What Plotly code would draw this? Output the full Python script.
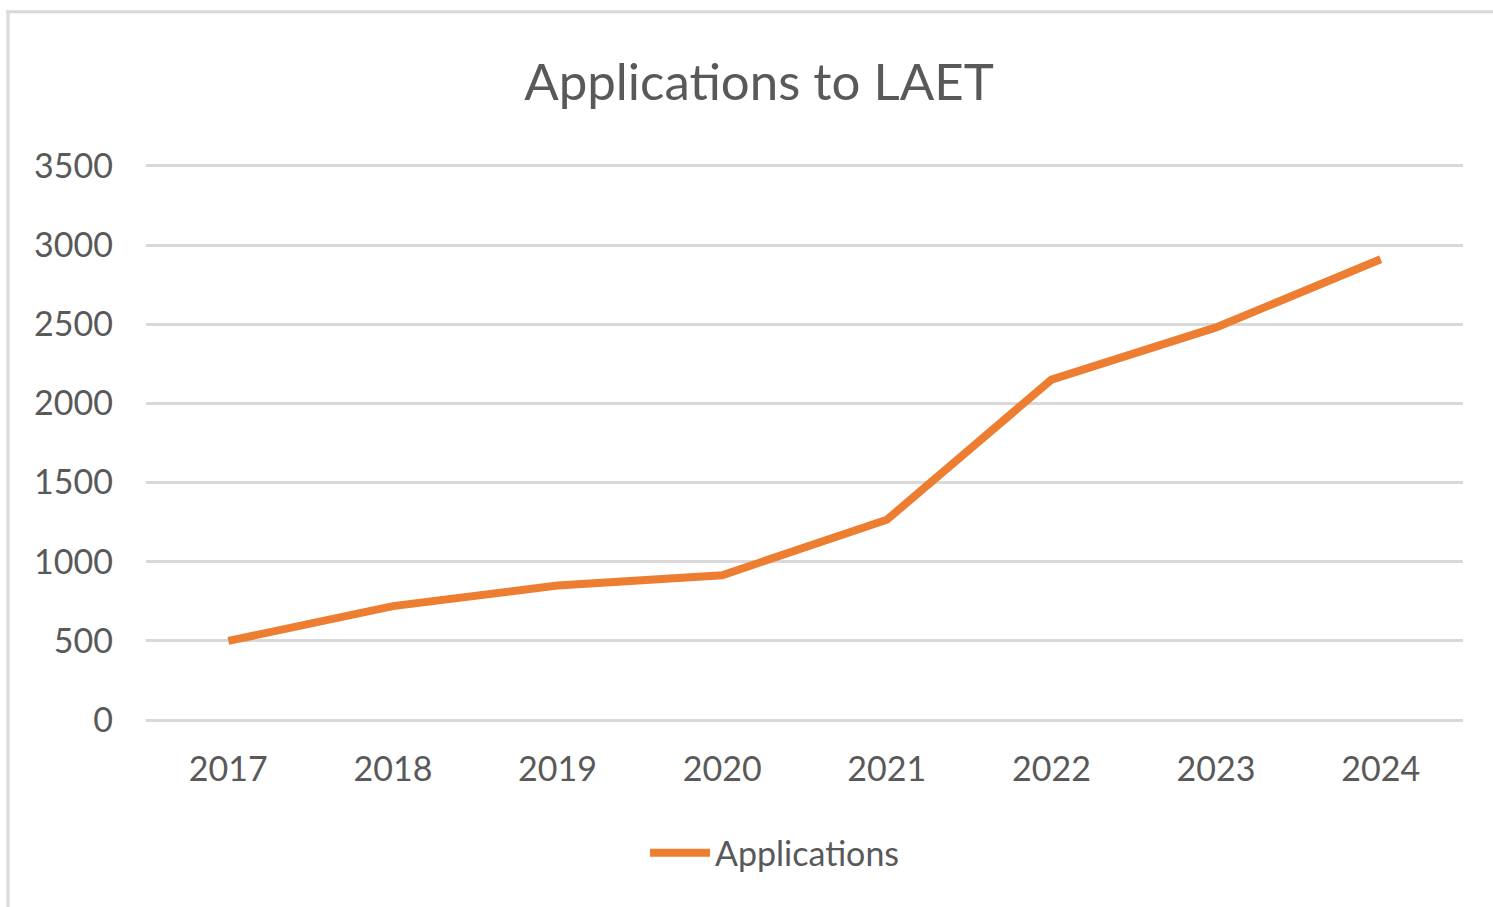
import plotly.graph_objects as go

years = ["2017", "2018", "2019", "2020", "2021", "2022", "2023", "2024"]
applications = [500, 720, 850, 915, 1265, 2150, 2480, 2910]
y_ticks = [0, 500, 1000, 1500, 2000, 2500, 3000, 3500]

W, H = 1493, 907
# target pixel positions of the value axis ends
Y0_PX, Y3500_PX = 720, 166
PAD = 12  # data units of padding so edge gridlines are drawn
k = (Y0_PX - Y3500_PX) / 3500.0
L, R = 146, 30
T = Y3500_PX - PAD * k
B = H - (Y0_PX + PAD * k)
pw, ph = W - L - R, H - T - B

def px(x):
    return (x - L) / pw

def py(y):
    return (H - B - y) / ph

FONT = "Lato"
TXT = "#595959"
GRID = "#D9D9D9"

fig = go.Figure()
fig.add_trace(go.Scatter(
    x=years, y=applications, mode="lines", name="Applications",
    line=dict(color="#ED7D31", width=8),
))

fig.update_layout(
    width=W, height=H,
    margin=dict(l=L, r=R, t=T, b=B, pad=0),
    paper_bgcolor="white", plot_bgcolor="white",
    font=dict(family=FONT, color=TXT),
    title=dict(text="Applications to LAET", x=759 / W, xanchor="center",
               y=1 - 82 / H, yanchor="middle",
               font=dict(family=FONT, size=51, color=TXT)),
    showlegend=True,
    legend=dict(x=px(775), y=py(853), xanchor="center", yanchor="middle",
                font=dict(family=FONT, size=34, color=TXT),
                bgcolor="rgba(0,0,0,0)", itemwidth=60),
    xaxis=dict(type="category", range=[-0.5, 7.5], showgrid=False,
               showline=False, zeroline=False, ticks="",
               tickfont=dict(family=FONT, size=34, color=TXT), ticklabelstandoff=24),
    yaxis=dict(range=[-PAD, 3500 + PAD], tickvals=y_ticks, showgrid=True,
               gridcolor=GRID, gridwidth=2.5, zeroline=False, showline=False,
               ticks="", tickfont=dict(family=FONT, size=34, color=TXT),
               ticklabelstandoff=32),
    shapes=[
        dict(type="line", xref="paper", yref="paper", x0=px(6), x1=px(W + 5),
             y0=py(12), y1=py(12), line=dict(color=GRID, width=3)),
        dict(type="line", xref="paper", yref="paper", x0=px(8), x1=px(8),
             y0=py(11), y1=py(H + 5), line=dict(color=GRID, width=3)),
    ],
)

fig.write_html("out.html", config={"displayModeBar": False},
               post_script="document.body.style.margin='0';")
